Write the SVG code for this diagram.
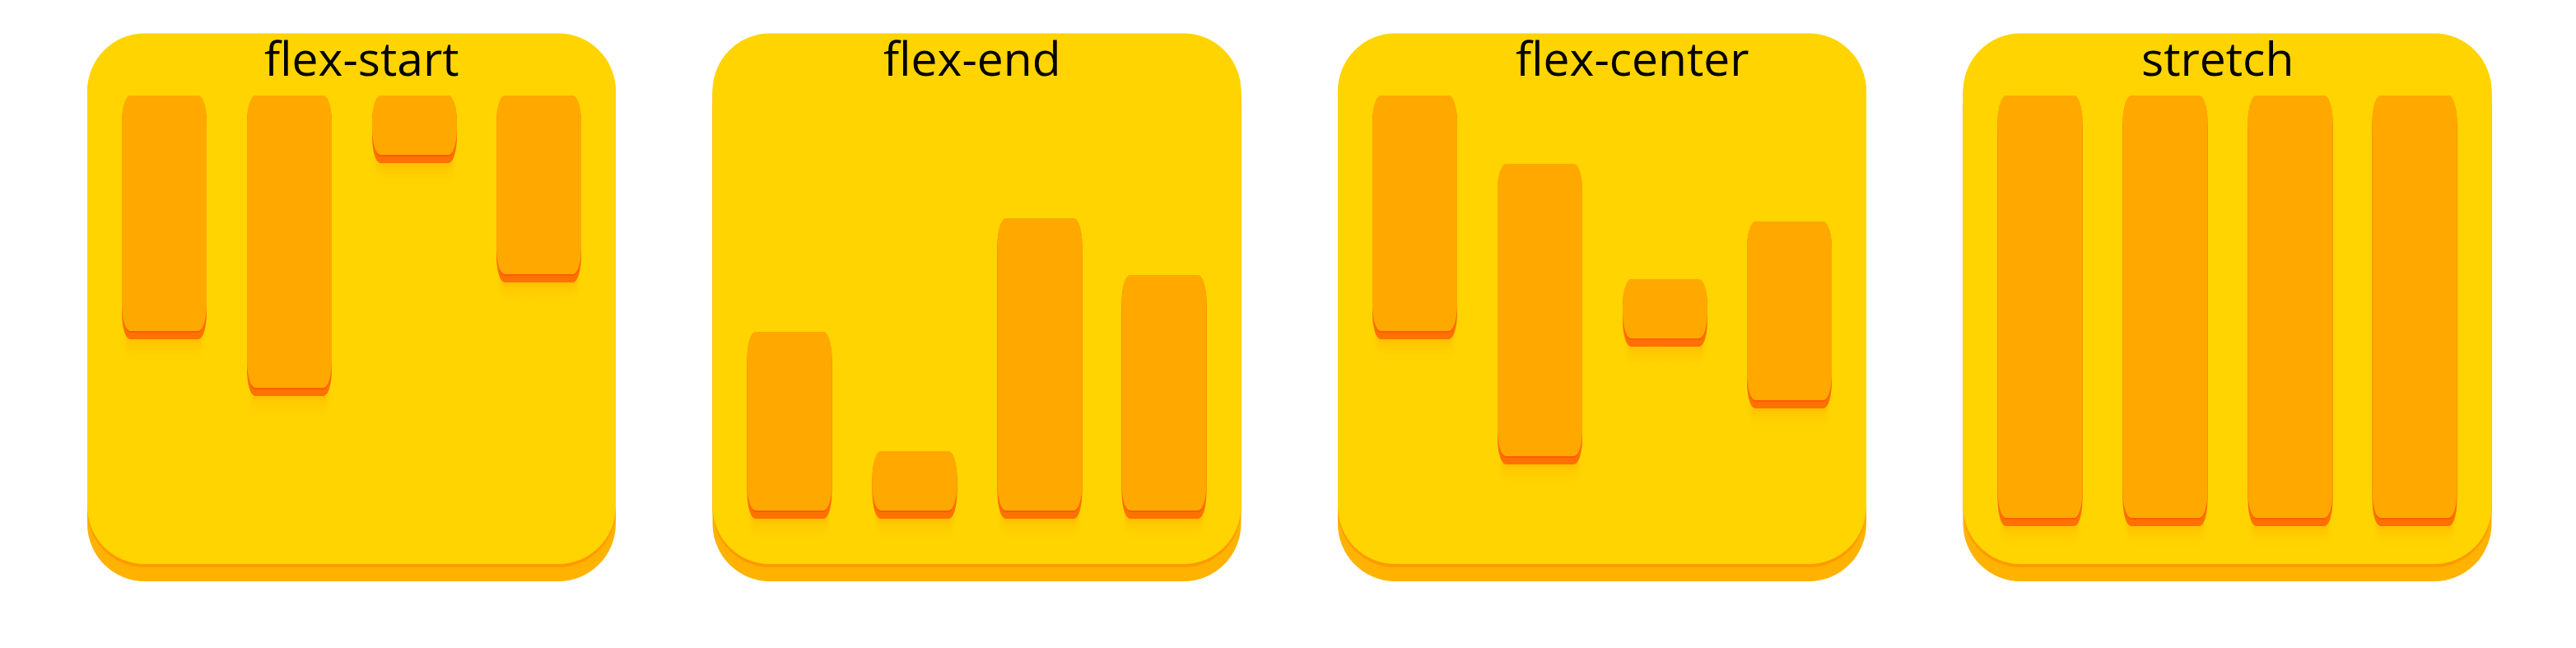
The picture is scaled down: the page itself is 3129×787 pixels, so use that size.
<svg xmlns="http://www.w3.org/2000/svg" xmlns:xlink="http://www.w3.org/1999/xlink" width="3129" height="787" viewBox="0 0 3129 787">
  <style>
    .pbase { fill: #FFB300; }
    .pline { fill: #FF9A00; }
    .pface { fill: #FFD400; }
    .bshadow { fill: url(#shadowGrad); filter: url(#soft); }
    .bbase { fill: #FF7100; }
    .bline { fill: #FF5C00; }
    .bface { fill: #FFA800; }
    .label { font-family: "Open Sans", "Noto Sans", "Liberation Sans", sans-serif; font-size: 57px; fill: #000000; }
  </style>
  <defs>
    <linearGradient id="shadowGrad" x1="0" y1="0" x2="0" y2="1">
      <stop offset="0" stop-color="#FFA800" stop-opacity="0.75"/>
      <stop offset="0.5" stop-color="#FFB800" stop-opacity="0.3"/>
      <stop offset="1" stop-color="#FFC800" stop-opacity="0"/>
    </linearGradient>
    <filter id="soft" x="-20%" y="-20%" width="140%" height="140%">
      <feGaussianBlur stdDeviation="2.5"/>
    </filter>
    <g id="panelBg">
      <rect class="pbase" x="106" y="61.5" width="642" height="644.5" rx="70" ry="70"/>
      <rect class="pline" x="106" y="44.5" width="642" height="644.5" rx="70" ry="70"/>
      <rect class="pface" x="106" y="40.5" width="642" height="644.5" rx="70" ry="70"/>
    </g>
  </defs>

  <g id="connectors"></g>

  <g id="panel-flex-start">
    <use xlink:href="#panelBg" href="#panelBg"/>
    <text class="label" x="321" y="92">flex-start</text>
    <g id="fs-bar1">
      <rect class="bshadow" x="153" y="404" width="93" height="34" rx="8"/>
      <rect class="bbase" x="148" y="126" width="103" height="286" rx="10" ry="32"/>
      <rect class="bline" x="148" y="118" width="103" height="286" rx="10" ry="32"/>
      <rect class="bface" x="148" y="116" width="103" height="286" rx="10" ry="32"/>
    </g>
    <g id="fs-bar2">
      <rect class="bshadow" x="305" y="473" width="93" height="34" rx="8"/>
      <rect class="bbase" x="300" y="126" width="103" height="355" rx="10" ry="32"/>
      <rect class="bline" x="300" y="118" width="103" height="355" rx="10" ry="32"/>
      <rect class="bface" x="300" y="116" width="103" height="355" rx="10" ry="32"/>
    </g>
    <g id="fs-bar3">
      <rect class="bshadow" x="457" y="190" width="93" height="34" rx="8"/>
      <rect class="bbase" x="452" y="126" width="103" height="72" rx="10" ry="32"/>
      <rect class="bline" x="452" y="118" width="103" height="72" rx="10" ry="32"/>
      <rect class="bface" x="452" y="116" width="103" height="72" rx="10" ry="32"/>
    </g>
    <g id="fs-bar4">
      <rect class="bshadow" x="608" y="335" width="93" height="34" rx="8"/>
      <rect class="bbase" x="603" y="126" width="103" height="217" rx="10" ry="32"/>
      <rect class="bline" x="603" y="118" width="103" height="217" rx="10" ry="32"/>
      <rect class="bface" x="603" y="116" width="103" height="217" rx="10" ry="32"/>
    </g>
  </g>

  <g id="panel-flex-end" transform="translate(759.5,0)">
    <use xlink:href="#panelBg" href="#panelBg"/>
    <text class="label" x="313.5" y="92">flex-end</text>
    <g id="fe-bar1">
      <rect class="bshadow" x="153" y="622" width="93" height="34" rx="8"/>
      <rect class="bbase" x="148" y="413" width="103" height="217" rx="10" ry="32"/>
      <rect class="bline" x="148" y="405" width="103" height="217" rx="10" ry="32"/>
      <rect class="bface" x="148" y="403" width="103" height="217" rx="10" ry="32"/>
    </g>
    <g id="fe-bar2">
      <rect class="bshadow" x="305" y="622" width="93" height="34" rx="8"/>
      <rect class="bbase" x="300" y="558" width="103" height="72" rx="10" ry="32"/>
      <rect class="bline" x="300" y="550" width="103" height="72" rx="10" ry="32"/>
      <rect class="bface" x="300" y="548" width="103" height="72" rx="10" ry="32"/>
    </g>
    <g id="fe-bar3">
      <rect class="bshadow" x="457" y="622" width="93" height="34" rx="8"/>
      <rect class="bbase" x="452" y="275" width="103" height="355" rx="10" ry="32"/>
      <rect class="bline" x="452" y="267" width="103" height="355" rx="10" ry="32"/>
      <rect class="bface" x="452" y="265" width="103" height="355" rx="10" ry="32"/>
    </g>
    <g id="fe-bar4">
      <rect class="bshadow" x="608" y="622" width="93" height="34" rx="8"/>
      <rect class="bbase" x="603" y="344" width="103" height="286" rx="10" ry="32"/>
      <rect class="bline" x="603" y="336" width="103" height="286" rx="10" ry="32"/>
      <rect class="bface" x="603" y="334" width="103" height="286" rx="10" ry="32"/>
    </g>
  </g>

  <g id="panel-flex-center" transform="translate(1519,0)">
    <use xlink:href="#panelBg" href="#panelBg"/>
    <text class="label" x="322" y="92">flex-center</text>
    <g id="fc-bar1">
      <rect class="bshadow" x="153" y="404" width="93" height="34" rx="8"/>
      <rect class="bbase" x="148" y="126" width="103" height="286" rx="10" ry="32"/>
      <rect class="bline" x="148" y="118" width="103" height="286" rx="10" ry="32"/>
      <rect class="bface" x="148" y="116" width="103" height="286" rx="10" ry="32"/>
    </g>
    <g id="fc-bar2">
      <rect class="bshadow" x="305" y="556" width="93" height="34" rx="8"/>
      <rect class="bbase" x="300" y="209" width="103" height="355" rx="10" ry="32"/>
      <rect class="bline" x="300" y="201" width="103" height="355" rx="10" ry="32"/>
      <rect class="bface" x="300" y="199" width="103" height="355" rx="10" ry="32"/>
    </g>
    <g id="fc-bar3">
      <rect class="bshadow" x="457" y="413" width="93" height="34" rx="8"/>
      <rect class="bbase" x="452" y="349" width="103" height="72" rx="10" ry="32"/>
      <rect class="bline" x="452" y="341" width="103" height="72" rx="10" ry="32"/>
      <rect class="bface" x="452" y="339" width="103" height="72" rx="10" ry="32"/>
    </g>
    <g id="fc-bar4">
      <rect class="bshadow" x="608" y="488" width="93" height="34" rx="8"/>
      <rect class="bbase" x="603" y="279" width="103" height="217" rx="10" ry="32"/>
      <rect class="bline" x="603" y="271" width="103" height="217" rx="10" ry="32"/>
      <rect class="bface" x="603" y="269" width="103" height="217" rx="10" ry="32"/>
    </g>
  </g>

  <g id="panel-stretch" transform="translate(2278.5,0)">
    <use xlink:href="#panelBg" href="#panelBg"/>
    <text class="label" x="322.5" y="92">stretch</text>
    <g id="st-bar1">
      <rect class="bshadow" x="153" y="631" width="93" height="34" rx="8"/>
      <rect class="bbase" x="148" y="126" width="103" height="513" rx="10" ry="32"/>
      <rect class="bline" x="148" y="118" width="103" height="513" rx="10" ry="32"/>
      <rect class="bface" x="148" y="116" width="103" height="513" rx="10" ry="32"/>
    </g>
    <g id="st-bar2">
      <rect class="bshadow" x="305" y="631" width="93" height="34" rx="8"/>
      <rect class="bbase" x="300" y="126" width="103" height="513" rx="10" ry="32"/>
      <rect class="bline" x="300" y="118" width="103" height="513" rx="10" ry="32"/>
      <rect class="bface" x="300" y="116" width="103" height="513" rx="10" ry="32"/>
    </g>
    <g id="st-bar3">
      <rect class="bshadow" x="457" y="631" width="93" height="34" rx="8"/>
      <rect class="bbase" x="452" y="126" width="103" height="513" rx="10" ry="32"/>
      <rect class="bline" x="452" y="118" width="103" height="513" rx="10" ry="32"/>
      <rect class="bface" x="452" y="116" width="103" height="513" rx="10" ry="32"/>
    </g>
    <g id="st-bar4">
      <rect class="bshadow" x="608" y="631" width="93" height="34" rx="8"/>
      <rect class="bbase" x="603" y="126" width="103" height="513" rx="10" ry="32"/>
      <rect class="bline" x="603" y="118" width="103" height="513" rx="10" ry="32"/>
      <rect class="bface" x="603" y="116" width="103" height="513" rx="10" ry="32"/>
    </g>
  </g>
</svg>
